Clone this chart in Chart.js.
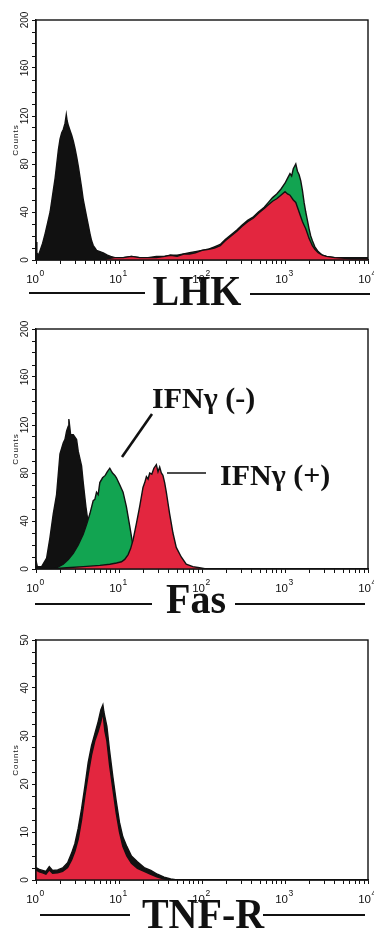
<!DOCTYPE html>
<html lang="en">
<head>
<meta charset="UTF-8">
<title>LHK / Fas / TNF-R flow cytometry</title>
<script src="https://cdn.jsdelivr.net/npm/chart.js@4.4.0/dist/chart.umd.min.js"></script>
<style>
  body { margin: 0; background: #fff; }
  #page { position: relative; width: 374px; height: 930px; overflow: hidden; color: #111;
          font-family: "Liberation Serif", "Times New Roman", serif; }
  .panel { position: absolute; left: 0; width: 374px; height: 292px; }
  .title { position: absolute; font-weight: bold; font-size: 40px; line-height: 40px;
           transform: translateX(-50%) scaleY(1.06); white-space: nowrap; }
  .rule { position: absolute; height: 0; border-top: 2px solid #111; }
  .tag { position: absolute; font-weight: bold; font-size: 30px; line-height: 30px; white-space: nowrap; }
  svg { position: absolute; left: 0; top: 0; }
</style>
</head>
<body>
<div id="page">
  <div class="panel" style="top:0"><canvas id="lhk" width="374" height="292"></canvas></div>
  <div class="panel" style="top:309px"><canvas id="fas" width="374" height="292"></canvas></div>
  <div class="panel" style="top:620px"><canvas id="tnf" width="374" height="292"></canvas></div>

  <div class="rule" style="left:29px;width:116px;top:292px"></div>
  <div class="title" style="left:197px;top:271px">LHK</div>
  <div class="rule" style="left:250px;width:120px;top:293px"></div>

  <div class="rule" style="left:35px;width:117px;top:603px"></div>
  <div class="title" style="left:196px;top:579px">Fas</div>
  <div class="rule" style="left:235px;width:130px;top:603px"></div>

  <div class="rule" style="left:40px;width:90px;top:914px"></div>
  <div class="title" style="left:203px;top:894px">TNF-R</div>
  <div class="rule" style="left:263px;width:102px;top:914px"></div>

  <div class="tag" style="left:152px;top:383px">IFNγ (-)</div>
  <div class="tag" style="left:220px;top:460px">IFNγ (+)</div>
  <svg width="374" height="930">
    <line x1="152" y1="414" x2="122" y2="457" stroke="#111" stroke-width="2.6"/>
    <line x1="167" y1="473" x2="206" y2="473" stroke="#111" stroke-width="1.6"/>
  </svg>
</div>

<script>
  // x positions are log10 of fluorescence intensity (decades), y are cell counts
  const lhkControlLog = [0.00, 0.01, 0.03, 0.05, 0.08, 0.11, 0.14, 0.17, 0.20, 0.23, 0.25, 0.27, 0.29, 0.31, 0.33, 0.35, 0.365, 0.375, 0.39, 0.41, 0.43, 0.45, 0.47, 0.49, 0.51, 0.53, 0.55, 0.57, 0.59, 0.61, 0.63, 0.65, 0.67, 0.69, 0.71, 0.73, 0.77, 0.81, 0.86, 0.90, 0.95, 1.00, 1.05];
  const lhkControl = [15, 6, 4, 8, 14, 22, 31, 40, 54, 68, 80, 92, 101, 106, 109, 114, 121, 116, 112, 108, 104, 99, 93, 86, 78, 69, 60, 50, 43, 36, 29, 22, 16, 12, 10, 8, 7, 6, 4, 3, 2, 2, 0];

  const lhkLog = [0.85, 0.95, 1.05, 1.15, 1.25, 1.35, 1.45, 1.55, 1.62, 1.70, 1.78, 1.85, 1.92, 2.00, 2.08, 2.15, 2.22, 2.28, 2.35, 2.42, 2.48, 2.55, 2.62, 2.68, 2.75, 2.80, 2.85, 2.90, 2.95, 3.00, 3.03, 3.06, 3.08, 3.10, 3.13, 3.15, 3.17, 3.19, 3.21, 3.23, 3.25, 3.27, 3.29, 3.31, 3.33, 3.36, 3.40, 3.45, 3.50, 3.60, 3.80, 4.00];
  const lhkMinus = [1, 2, 2, 3, 2, 2, 3, 3, 4, 4, 5, 6, 7, 8, 9, 11, 13, 17, 21, 25, 29, 33, 36, 40, 44, 48, 52, 55, 59, 64, 68, 72, 70, 76, 80, 74, 71, 66, 58, 48, 40, 33, 26, 20, 16, 11, 7, 4, 3, 2, 2, 2];
  const lhkPlus = [1, 2, 2, 3, 2, 2, 2, 3, 4, 3, 5, 5, 6, 8, 9, 10, 12, 16, 20, 24, 28, 32, 35, 39, 43, 46, 49, 51, 54, 57, 55, 54, 52, 50, 48, 44, 40, 36, 32, 29, 26, 22, 18, 15, 12, 9, 6, 4, 3, 2, 1, 1];

  const fasControlLog = [0.00, 0.016, 0.068, 0.128, 0.168, 0.208, 0.248, 0.289, 0.328, 0.349, 0.369, 0.389, 0.396, 0.417, 0.449, 0.489, 0.509, 0.549, 0.569, 0.601, 0.629, 0.657, 0.689, 0.729, 0.77, 0.85];
  const fasControl = [7, 2, 2, 9, 26, 46, 62, 96, 105, 108, 115, 119, 125, 112, 112, 108, 98, 86, 72, 52, 38, 25, 14, 6, 2, 0];

  const fasMinusLog = [0.168, 0.248, 0.328, 0.389, 0.449, 0.509, 0.569, 0.609, 0.649, 0.689, 0.709, 0.729, 0.749, 0.769, 0.802, 0.834, 0.858, 0.889, 0.905, 0.922, 0.950, 0.969, 1.010, 1.049, 1.089, 1.129, 1.169, 1.21, 1.25, 1.30, 1.35, 1.45];
  const fasMinus = [0, 1, 4, 8, 13, 20, 29, 37, 46, 57, 58, 64, 62, 72, 76, 78, 81, 84, 82, 80, 78, 76, 70, 64, 52, 36, 19, 10, 5, 2, 1, 0];

  const fasPlusLog = [0.168, 0.369, 0.569, 0.770, 0.890, 0.970, 1.030, 1.069, 1.110, 1.140, 1.169, 1.210, 1.249, 1.289, 1.310, 1.330, 1.350, 1.370, 1.395, 1.420, 1.450, 1.470, 1.490, 1.510, 1.529, 1.550, 1.570, 1.590, 1.610, 1.630, 1.650, 1.690, 1.750, 1.810, 1.890, 1.970, 2.050];
  const fasPlus = [0, 1, 2, 3, 4, 5, 6, 8, 12, 17, 24, 38, 52, 68, 72, 77, 75, 80, 79, 84, 87, 81, 85, 80, 78, 72, 64, 55, 46, 38, 30, 18, 10, 4, 2, 1, 0];

  const tnfLog = [0.000, 0.040, 0.080, 0.120, 0.160, 0.200, 0.261, 0.321, 0.381, 0.429, 0.469, 0.509, 0.549, 0.589, 0.629, 0.669, 0.709, 0.749, 0.782, 0.806, 0.818, 0.830, 0.854, 0.886, 0.926, 0.966, 1.006, 1.046, 1.094, 1.150, 1.222, 1.303, 1.383, 1.463, 1.543, 1.623, 1.700];
  const tnfControl = [2.6, 2.2, 2.0, 1.8, 2.8, 2.0, 2.1, 2.5, 3.6, 5.6, 7.6, 10.8, 14.8, 19.5, 24.5, 28, 30.5, 33, 35.5, 36.5, 35, 34, 32, 27, 21.5, 16.5, 12, 9, 7, 5, 3.8, 2.6, 2.0, 1.2, 0.6, 0.2, 0];
  const tnfStained = [2.1, 1.7, 1.5, 1.2, 2.1, 1.4, 1.5, 1.8, 2.6, 4.2, 6.0, 8.5, 12.5, 17.5, 22, 26, 29, 31, 33, 35, 33, 31, 29, 24, 19, 14, 10, 7, 5, 3.5, 2.4, 1.8, 1.2, 0.6, 0.2, 0, 0];

  const decades = [0, 1, 2, 3, 4];

  const BLACK = '#111111';
  const GREEN = '#12a451';
  const RED = '#e3263f';

  const axisText = {
    id: 'axisText',
    afterDraw(chart, args, opts) {
      const { ctx, chartArea: a, scales: { x, y } } = chart;
      ctx.save();
      ctx.strokeStyle = BLACK;
      ctx.lineWidth = 1.4;
      ctx.strokeRect(a.left, a.top, a.right - a.left, a.bottom - a.top);
      ctx.fillStyle = BLACK;
      ctx.textBaseline = 'alphabetic';
      decades.forEach(p => {
        const px = x.getPixelForValue(Math.pow(10, p));
        ctx.font = '11.5px "Liberation Sans", Arial, sans-serif';
        ctx.textAlign = 'right';
        ctx.fillText('10', px + 3, a.bottom + 23);
        ctx.font = '8.5px "Liberation Sans", Arial, sans-serif';
        ctx.textAlign = 'left';
        ctx.fillText(String(p), px + 3.5, a.bottom + 16);
      });
      ctx.font = '10px "Liberation Sans", Arial, sans-serif';
      ctx.textAlign = 'center';
      ctx.textBaseline = 'middle';
      for (let v = 0; v <= opts.max; v += opts.labelStep) {
        ctx.save();
        ctx.translate(25.5, y.getPixelForValue(v));
        ctx.rotate(-Math.PI / 2);
        ctx.fillText(String(v), 0, 0);
        ctx.restore();
      }
      ctx.save();
      ctx.font = '8px "Liberation Sans", Arial, sans-serif';
      ctx.letterSpacing = '1px';
      ctx.translate(16, (a.top + a.bottom) / 2);
      ctx.rotate(-Math.PI / 2);
      ctx.fillText('Counts', 0, 0);
      ctx.restore();
      ctx.restore();
    }
  };

  function series(logs, counts, color, order) {
    return {
      data: logs.map((d, i) => ({ x: Math.pow(10, d), y: counts[i] })),
      backgroundColor: color,
      borderColor: BLACK,
      borderWidth: 1.4,
      fill: 'origin',
      pointRadius: 0,
      tension: 0,
      order: order
    };
  }

  function histogram(id, datasets, yMax, yStep, labelStep) {
    const xTicks = [];
    for (let d = 0; d < 4; d++) {
      for (let m = 1; m < 10; m++) xTicks.push(m * Math.pow(10, d));
    }
    xTicks.push(10000);
    const yTicks = [];
    for (let v = 0; v <= yMax; v += yStep) yTicks.push(v);

    return new Chart(document.getElementById(id), {
      type: 'line',
      data: { datasets: datasets },
      options: {
        responsive: false,
        animation: false,
        events: [],
        layout: { padding: { top: 20, right: 6, left: 0, bottom: 0 } },
        plugins: {
          legend: { display: false },
          tooltip: { enabled: false },
          axisText: { max: yMax, labelStep: labelStep }
        },
        scales: {
          x: {
            type: 'logarithmic',
            min: 1,
            max: 10000,
            afterBuildTicks: s => { s.ticks = xTicks.map(v => ({ value: v })); },
            afterFit: s => { s.height = 32; },
            ticks: { display: false },
            grid: { drawOnChartArea: false, tickLength: 4, color: BLACK },
            border: { color: BLACK, width: 1.4 }
          },
          y: {
            min: 0,
            max: yMax,
            afterBuildTicks: s => { s.ticks = yTicks.map(v => ({ value: v })); },
            afterFit: s => { s.width = 36; },
            ticks: { display: false },
            grid: { drawOnChartArea: false, tickLength: 4, color: BLACK },
            border: { color: BLACK, width: 1.4 }
          }
        }
      },
      plugins: [axisText]
    });
  }

  histogram('lhk', [
    series(lhkLog, lhkPlus, RED, 0),
    series(lhkLog, lhkMinus, GREEN, 1),
    series(lhkControlLog, lhkControl, BLACK, 2)
  ], 200, 10, 40);

  histogram('fas', [
    series(fasPlusLog, fasPlus, RED, 0),
    series(fasMinusLog, fasMinus, GREEN, 1),
    series(fasControlLog, fasControl, BLACK, 2)
  ], 200, 10, 40);

  histogram('tnf', [
    series(tnfLog, tnfStained, RED, 0),
    series(tnfLog, tnfControl, BLACK, 1)
  ], 50, 2.5, 10);
</script>
</body>
</html>
